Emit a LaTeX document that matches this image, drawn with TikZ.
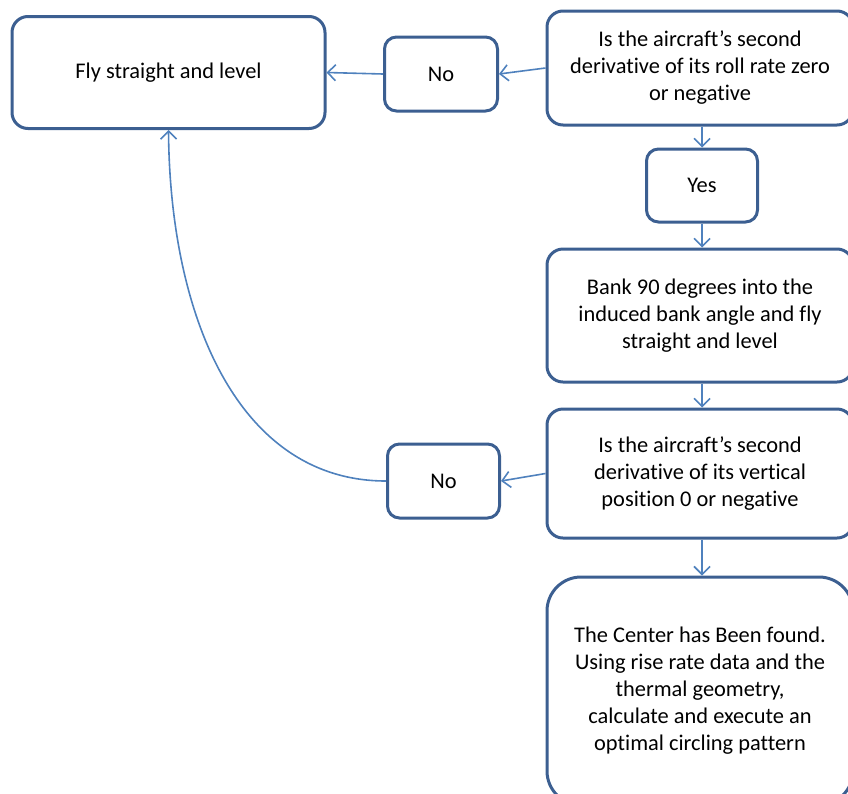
\documentclass[tikz,border=0pt]{standalone}
\usepackage{fontspec}
\setmainfont{Carlito}[Ligatures={NoCommon,NoRequired,NoContextual}]
\usetikzlibrary{arrows.meta}
\definecolor{boxline}{RGB}{60,95,145}
\definecolor{linkline}{RGB}{79,129,189}
\begin{document}
\begin{tikzpicture}[x=1pt,y=-1pt,
  box/.style={draw=boxline, line width=3pt, rounded corners=16pt, fill=white,
    align=center, font=\fontsize{22.4}{27}\selectfont, inner sep=0pt},
  small/.style={box, rounded corners=12pt},
  link/.style={draw=linkline, line width=1.6pt,
    -{Straight Barb[length=8pt,width=16pt]}}]
\useasboundingbox (0,0) rectangle (848,793);
\clip (0,0) rectangle (848,793);

% decision and action boxes
\node[box, minimum width=313pt, minimum height=112pt] (fly) at (168.5,72.5)
  {Fly straight and level};
\node[small, minimum width=113pt, minimum height=74pt] (no1) at (441,74) {No};
\node[box, minimum width=306pt, minimum height=114pt] (q1) at (700,68)
  {Is the aircraft’s second\\derivative of its roll rate zero\\or negative};
\node[small, minimum width=111pt, minimum height=73pt] (yes) at (702,185.5) {Yes};
\node[box, minimum width=306pt, minimum height=133pt] (bank) at (700,315.5)
  {Bank 90 degrees into the\\induced bank angle and fly\\straight and level};
\node[box, minimum width=306pt, minimum height=129pt] (q2) at (700,473.5)
  {Is the aircraft’s second\\derivative of its vertical\\position 0 or negative};
\node[small, minimum width=112pt, minimum height=74pt] (no2) at (443.5,481) {No};
\node[box, rounded corners=34pt, minimum width=306pt, minimum height=228pt] (final) at (700,691)
  {The Center has Been found.\\Using rise rate data and the\\thermal geometry,\\calculate and execute an\\optimal circling pattern};

% connectors
\draw[link] (q1.west) -- (no1.east);
\draw[link] (no1.west) -- (fly.east);
\draw[link] (yes.north |- q1.south) -- (yes.north);
\draw[link] (yes.south) -- (yes.south |- bank.north);
\draw[link] (yes.south |- bank.south) -- (yes.south |- q2.north);
\draw[link] (q2.west) -- (no2.east);
\draw[link] (yes.south |- q2.south) -- (yes.south |- final.north);
\draw[link] (no2.west) .. controls (240,481) and (170,320) .. (fly.south);
\end{tikzpicture}
\end{document}
